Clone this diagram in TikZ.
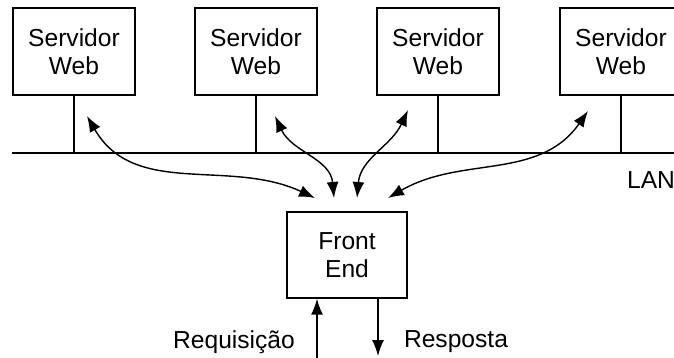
\documentclass[tikz,border=0pt]{standalone}
\usepackage{fontspec}
\setmainfont{Liberation Sans}
\usetikzlibrary{arrows.meta}

\tikzset{
    caixa/.style={draw, line width=0.8pt, minimum width=2.44cm, minimum height=1.74cm, align=center, font=\fontsize{14}{16}\selectfont},
    rotulo/.style={font=\fontsize{14}{16}\selectfont},
    seta/.style={line width=0.8pt, -{Latex[length=3.2mm,width=2.4mm]}},
    setadupla/.style={line width=0.8pt, {Latex[length=3.2mm,width=2.4mm]}-{Latex[length=3.2mm,width=2.4mm]}}
}

\begin{document}
\begin{tikzpicture}[x=0.02cm,y=0.02cm]

    \useasboundingbox (0,0) rectangle (674,-358);

    \node[caixa] (srv1) at (74,-51.5) {Servidor\\Web};
    \node[caixa] (srv2) at (256,-51.5) {Servidor\\Web};
    \node[caixa] (srv3) at (438,-51.5) {Servidor\\Web};
    \node[caixa] (srv4) at (621,-51.5) {Servidor\\Web};
    \node[caixa, minimum width=2.4cm, minimum height=1.72cm] (front) at (347,-255) {Front\\End};

    % rede local
    \coordinate (lanL) at (12,-153);
    \coordinate (lanR) at (674,-153);
    \draw[line width=1.4pt] (lanL) -- (lanR);
    \node[rotulo] (lan) at (651,-180) {LAN};

    \draw[line width=0.8pt] (srv1.south) -- (srv1.south |- lanL);
    \draw[line width=0.8pt] (srv2.south) -- (srv2.south |- lanL);
    \draw[line width=0.8pt] (srv3.south) -- (srv3.south |- lanL);
    \draw[line width=0.8pt] (srv4.south) -- (srv4.south |- lanL);

    % ligacoes servidores <-> front end
    \coordinate (a1) at (87,-116);
    \coordinate (a2) at (275,-116);
    \coordinate (a3) at (408,-110);
    \coordinate (a4) at (588,-111);
    \coordinate (b1) at (315,-198);
    \coordinate (b2) at (334,-198);
    \coordinate (b3) at (357,-198);
    \coordinate (b4) at (388,-198);

    \draw[setadupla] (a1) to [out=-60,in=155] (b1);
    \draw[setadupla] (a2) to [out=-65,in=95] (b2);
    \draw[setadupla] (a3) to [out=-115,in=85] (b3);
    \draw[setadupla] (a4) to [out=-125,in=30] (b4);

    % requisicao e resposta
    \coordinate (req) at (317,-358);
    \coordinate (resp) at (378,-356);
    \draw[seta] (req) -- (req |- front.south);
    \draw[seta] (front.south -| resp) -- (resp);
    \node[rotulo] (reqtxt) at (234,-342) {Requisição};
    \node[rotulo] (resptxt) at (456,-342) {Resposta};

\end{tikzpicture}
\end{document}
